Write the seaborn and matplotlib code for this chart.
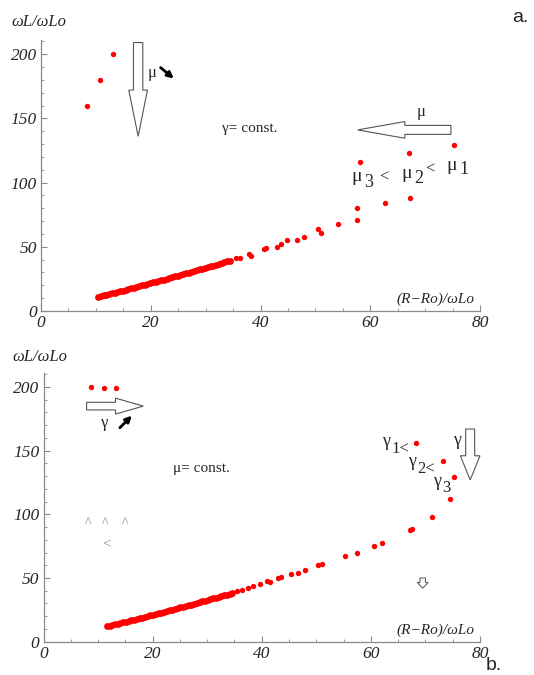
import matplotlib
matplotlib.use("Agg")
import matplotlib.pyplot as plt
import seaborn as sns
import pandas as pd
from matplotlib.patches import FancyArrow

# ---------------- data (panel a) ----------------
a_dense_x = [10.4, 10.9, 11.4, 11.9, 12.4, 12.9, 13.4, 13.9, 14.4, 14.9, 15.4, 15.9, 16.4,
             16.9, 17.4, 17.9, 18.4, 18.9, 19.4, 19.9, 20.4, 20.9, 21.4, 21.9, 22.4, 22.9,
             23.4, 23.9, 24.4, 24.9, 25.4, 25.9, 26.4, 26.9, 27.4, 27.9, 28.4, 28.9, 29.4,
             29.9, 30.4, 30.9, 31.4, 31.9, 32.4, 32.9, 33.4, 33.9, 34.4]
a_dense_y = [11.0, 11.5, 12.1, 12.6, 13.2, 13.7, 14.3, 14.8, 15.4, 15.9, 16.5, 17.1, 17.6,
             18.2, 18.8, 19.3, 19.9, 20.5, 21.0, 21.6, 22.2, 22.8, 23.4, 24.0, 24.5, 25.1,
             25.7, 26.3, 26.9, 27.5, 28.1, 28.7, 29.3, 29.9, 30.5, 31.1, 31.7, 32.4, 33.0,
             33.6, 34.2, 34.8, 35.4, 36.1, 36.7, 37.3, 38.0, 38.6, 39.2]
a_sparse_x = [35.6, 36.2, 37.9, 38.3, 40.6, 41.0, 43.0, 43.8, 44.9, 46.6, 48.0, 50.5, 51.1,
              54.1, 57.6, 57.6, 62.7, 67.3]
a_sparse_y = [41.0, 41.4, 44.0, 43.2, 48.3, 49.3, 50.0, 52.0, 55.0, 55.0, 58.0, 64.0, 61.0,
              67.5, 71.0, 80.0, 84.0, 88.0]
a_branch_x = [8.4, 10.7, 13.2, 58.1, 67.0, 75.3]
a_branch_y = [160, 180, 200, 116, 123, 129]

# ---------------- data (panel b) ----------------
b_dense_x = [11.6, 12.1, 12.6, 13.1, 13.6, 14.1, 14.6, 15.1, 15.6, 16.1, 16.6, 17.1, 17.6,
             18.1, 18.6, 19.1, 19.6, 20.1, 20.6, 21.1, 21.6, 22.1, 22.6, 23.1, 23.6, 24.1,
             24.6, 25.1, 25.6, 26.1, 26.6, 27.1, 27.6, 28.1, 28.6, 29.1, 29.6, 30.1, 30.6,
             31.1, 31.6, 32.1, 32.6, 33.1, 33.6, 34.1, 34.6]
b_dense_y = [12.0, 12.5, 13.1, 13.6, 14.1, 14.7, 15.2, 15.7, 16.3, 16.8, 17.4, 17.9, 18.4,
             19.0, 19.6, 20.1, 20.7, 21.2, 21.8, 22.3, 22.9, 23.5, 24.0, 24.6, 25.2, 25.8,
             26.3, 26.9, 27.5, 28.1, 28.7, 29.2, 29.8, 30.4, 31.0, 31.6, 32.2, 32.8, 33.4,
             34.0, 34.6, 35.2, 35.8, 36.4, 37.0, 37.7, 38.3]
b_sparse_x = [35.5, 36.3, 37.5, 38.4, 39.6, 40.9, 41.5, 43.0, 43.6, 45.3, 46.6, 48.0, 50.3,
              51.1, 55.2, 57.5, 60.6, 62.1, 67.2, 67.6, 71.2, 74.5]
b_sparse_y = [39.6, 40.7, 42.3, 43.6, 45.4, 47.5, 47.0, 50.0, 51.0, 53.0, 54.0, 56.5, 60.0,
              61.0, 67.0, 70.0, 75.0, 77.6, 87.6, 88.4, 98.0, 112.0]
b_branch_x = [8.7, 11.0, 13.2, 75.3, 73.3, 68.3]
b_branch_y = [200, 199, 199, 129, 142, 156]

x_ticks = [0, 20, 40, 60, 80]
y_ticks = [0, 50, 100, 150, 200]

sns.set_style("ticks")
plt.rcParams["font.family"] = ["Liberation Serif", "DejaVu Serif"]

W, H = 534, 675
fig = plt.figure(figsize=(W / 100, H / 100), dpi=100)
ax_a = fig.add_axes([41 / W, 1 - 311 / H, 439 / W, 271 / H])
ax_b = fig.add_axes([43.5 / W, 1 - 641.7 / H, 436.5 / W, 268.7 / H])

RED = "#ff0000"
GRAY = "#8a8a8a"


def scatter(ax, xs, ys, s):
    df = pd.DataFrame({"x": xs, "y": ys})
    sns.scatterplot(data=df, x="x", y="y", ax=ax, color=RED, s=s, linewidth=0,
                    legend=False, zorder=3, clip_on=False)


def style(ax):
    ax.set_xlim(0, 80)
    ax.set_ylim(0, 211)
    ax.set_xticks(x_ticks)
    ax.set_yticks(y_ticks)
    ax.set_xticks([5, 10, 15, 25, 30, 35, 45, 50, 55, 65, 70, 75], minor=True)
    ax.set_yticks([10, 20, 30, 40, 60, 70, 80, 90, 110, 120, 130, 140, 160, 170, 180, 190, 210],
                  minor=True)
    ax.set_xticklabels([str(t) for t in x_ticks], fontstyle="italic", fontsize=12.5)
    ax.set_yticklabels([str(t) for t in y_ticks], fontstyle="italic", fontsize=12.5)
    ax.tick_params(which="major", direction="in", length=4, width=0.8, color=GRAY, pad=3)
    ax.tick_params(which="minor", direction="in", length=2, width=0.6, color=GRAY)
    for s in ["top", "right"]:
        ax.spines[s].set_visible(False)
    for s in ["left", "bottom"]:
        ax.spines[s].set_color(GRAY)
        ax.spines[s].set_linewidth(0.9)
    ax.set_xlabel("")
    ax.set_ylabel("")
    ax.text(79, 9, "(R\u2212Ro)/\u03c9Lo", ha="right", va="center", fontsize=11,
            fontstyle="italic")


def hollow(ax, x, y, dx, dy, width, hw, hl, ec="#555555"):
    ax.add_patch(FancyArrow(x, y, dx, dy, width=width, head_width=hw, head_length=hl,
                            length_includes_head=True, facecolor="white", edgecolor=ec,
                            linewidth=0.8, zorder=4, clip_on=False))


def bold_arrow(ax, x0, y0, x1, y1):
    ax.annotate("", xy=(x1, y1), xytext=(x0, y0),
                arrowprops=dict(arrowstyle="-|>", lw=2.0, color="black", mutation_scale=9,
                                shrinkA=0, shrinkB=0))


def t(ax, x, y, s, size=13, ha="center", **kw):
    ax.text(x, y, s, fontsize=size, ha=ha, va="center", **kw)


# ---------------- panel a ----------------
scatter(ax_a, a_dense_x, a_dense_y, 24)
scatter(ax_a, a_sparse_x + a_branch_x, a_sparse_y + a_branch_y, 15)
style(ax_a)
ax_a.text(-0.067, 1.066, "\u03c9L/\u03c9Lo", transform=ax_a.transAxes, ha="left",
          va="center", fontsize=12, fontstyle="italic")
hollow(ax_a, 17.7, 209, 0, -73, 1.7, 3.4, 36)
t(ax_a, 20.3, 185, "\u03bc", 12)
bold_arrow(ax_a, 21.8, 189.5, 24.2, 181)
ax_a.text(33.0, 142, "\u03b3= const.", fontsize=11, ha="left", va="center")
hollow(ax_a, 74.7, 141, -17, 0, 7, 13, 8.6)
t(ax_a, 69.3, 155, "\u03bc", 12)
t(ax_a, 57.5, 104.5, "\u03bc", 14)
t(ax_a, 58.9, 100.0, "3", 13, ha="left")
t(ax_a, 62.4, 104.0, "<", 12)
t(ax_a, 66.6, 107.0, "\u03bc", 14)
t(ax_a, 68.0, 103.0, "2", 13, ha="left")
t(ax_a, 70.9, 110.0, "<", 12)
t(ax_a, 74.8, 113.5, "\u03bc", 14)
t(ax_a, 76.2, 110.0, "1", 13, ha="left")

# ---------------- panel b ----------------
scatter(ax_b, b_dense_x, b_dense_y, 24)
scatter(ax_b, b_sparse_x + b_branch_x, b_sparse_y + b_branch_y, 15)
style(ax_b)
ax_b.text(-0.071, 1.061, "\u03c9L/\u03c9Lo", transform=ax_b.transAxes, ha="left",
          va="center", fontsize=12, fontstyle="italic")
hollow(ax_b, 7.9, 185, 10.4, 0, 6, 12.5, 5.1)
t(ax_b, 11.3, 172, "\u03b3", 12)
bold_arrow(ax_b, 14.0, 168, 16.2, 177.5)
ax_b.text(23.8, 136, "\u03bc= const.", fontsize=11, ha="left", va="center")
for xx in [8.2, 11.2, 15.0]:
    t(ax_b, xx, 93, "^", 10, color=GRAY)
t(ax_b, 11.6, 76, "<", 11, color=GRAY)
hollow(ax_b, 78.2, 167, 0, -40, 1.65, 3.6, 19)
t(ax_b, 75.8, 158, "\u03b3", 13)
t(ax_b, 62.8, 157.0, "\u03b3", 13)
t(ax_b, 63.7, 151.5, "1<", 12, ha="left")
t(ax_b, 67.6, 141.5, "\u03b3", 13)
t(ax_b, 68.5, 136.0, "2<", 12, ha="left")
t(ax_b, 72.2, 126.0, "\u03b3", 13)
t(ax_b, 73.0, 120.5, "3", 12, ha="left")
hollow(ax_b, 69.5, 50, 0, -8, 1.0, 2.0, 4.5, ec="#666666")

fig.text(520 / W, 1 - 18 / H, "a.", fontsize=14, family="Liberation Sans",
         ha="center", va="center")
fig.text(494 / W, 1 - 666 / H, "b.", fontsize=14, family="Liberation Sans",
         ha="center", va="center")

fig.savefig("out.png", dpi=100, facecolor="white")
